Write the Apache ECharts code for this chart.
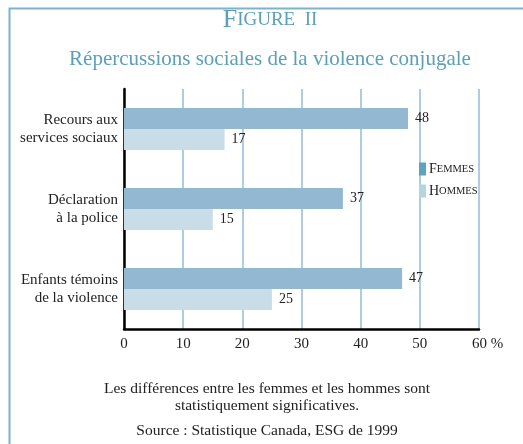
<!DOCTYPE html>
<html>
<head>
<meta charset="utf-8">
<script src="https://cdn.jsdelivr.net/npm/echarts@6/dist/echarts.min.js"></script>
<style>
  html, body { margin: 0; padding: 0; background: #fff; }
  #chart { width: 523px; height: 444px; }
</style>
</head>
<body>
<div id="chart"></div>
<script>
const categories = ['Recours aux\nservices sociaux', 'Déclaration\nà la police', 'Enfants témoins\nde la violence']
const femmes = [48, 37, 47]
const hommes = [17, 15, 25]
const xTicks = [0, 10, 20, 30, 40, 50, 60]

const serif = 'Liberation Serif'
const teal = '#5a9fbb'

const smallCaps = (s) => '{b|' + s[0] + '}{s|' + s.slice(1).toUpperCase() + '}'

let chart = echarts.init(document.getElementById('chart'))
const option = {
  backgroundColor: '#fff',
  title: {
    text: '{b|F}{s|IGURE  II}',
    subtext: 'Répercussions sociales de la violence conjugale',
    left: 265,
    textAlign: 'center',
    top: 2,
    itemGap: 16,
    textStyle: {
      fontFamily: serif,
      fontWeight: 'normal',
      color: teal,
      rich: {
        b: { fontFamily: serif, fontWeight: 'normal', fontSize: 26, color: teal },
        s: { fontFamily: serif, fontWeight: 'normal', fontSize: 19, color: teal }
      }
    },
    subtextStyle: {
      fontFamily: serif,
      fontSize: 21,
      color: teal
    }
  },
  legend: {
    orient: 'vertical',
    left: 414,
    top: 157,
    icon: 'rect',
    itemWidth: 7,
    itemHeight: 13,
    itemGap: 8,
    selectedMode: false,
    data: [
      { name: 'Femmes', itemStyle: { color: '#5ca3be' } },
      { name: 'Hommes', itemStyle: { color: '#b3d5e0' } }
    ],
    formatter: (name) => smallCaps(name),
    textStyle: {
      padding: [0, 0, 0, -2],
      rich: {
        b: { fontFamily: serif, fontSize: 14, color: '#222' },
        s: { fontFamily: serif, fontSize: 10.5, color: '#222' }
      }
    }
  },
  grid: {
    left: 124,
    right: 44,
    top: 89,
    bottom: 115
  },
  xAxis: {
    type: 'value',
    min: xTicks[0],
    max: xTicks[xTicks.length - 1],
    interval: 10,
    axisLine: { show: true, lineStyle: { color: '#000', width: 2.5 } },
    axisTick: { show: false },
    splitLine: { show: true, lineStyle: { color: '#93bcd6', width: 1.5 } },
    axisLabel: {
      margin: 8,
      fontFamily: serif,
      fontSize: 15,
      color: '#222',
      formatter: (v) => v === 60 ? '{p|60 %}' : String(v),
      rich: {
        p: { fontFamily: serif, fontSize: 15, color: '#222', padding: [0, 0, 0, 17] }
      }
    }
  },
  yAxis: {
    type: 'category',
    data: categories,
    inverse: true,
    axisLine: { show: true, lineStyle: { color: '#000', width: 2.5 } },
    axisTick: { show: false },
    axisLabel: {
      margin: 6,
      fontFamily: serif,
      fontSize: 15,
      lineHeight: 18,
      color: '#222',
      padding: [0, 0, 9, 0]
    }
  },
  series: [
    {
      name: 'Femmes',
      type: 'bar',
      data: femmes,
      barWidth: 21,
      barGap: '0%',
      itemStyle: { color: '#93b8d2' },
      label: {
        show: true,
        position: 'right',
        distance: 7,
        fontFamily: serif,
        fontSize: 14,
        color: '#222'
      }
    },
    {
      name: 'Hommes',
      type: 'bar',
      data: hommes,
      barWidth: 21,
      barGap: '0%',
      itemStyle: { color: '#c9dde8' },
      label: {
        show: true,
        position: 'right',
        distance: 7,
        fontFamily: serif,
        fontSize: 14,
        color: '#222'
      }
    }
  ],
  graphic: [
    {
      type: 'rect',
      left: 7,
      top: 6,
      shape: { width: 600, height: 600 },
      style: { fill: 'none', stroke: '#7fb3cc', lineWidth: 2 },
      silent: true
    },
    {
      type: 'text',
      x: 267,
      y: 380,
      style: {
        text: 'Les différences entre les femmes et les hommes sont\nstatistiquement significatives.',
        fontFamily: serif,
        fontSize: 15.5,
        lineHeight: 17,
        fill: '#222',
        align: 'center',
        verticalAlign: 'top'
      }
    },
    {
      type: 'text',
      x: 267,
      y: 423,
      style: {
        text: 'Source : Statistique Canada, ESG de 1999',
        fontFamily: serif,
        fontSize: 15.5,
        fill: '#222',
        align: 'center',
        verticalAlign: 'top'
      }
    }
  ]
}
chart.setOption(option)
</script>
</body>
</html>
